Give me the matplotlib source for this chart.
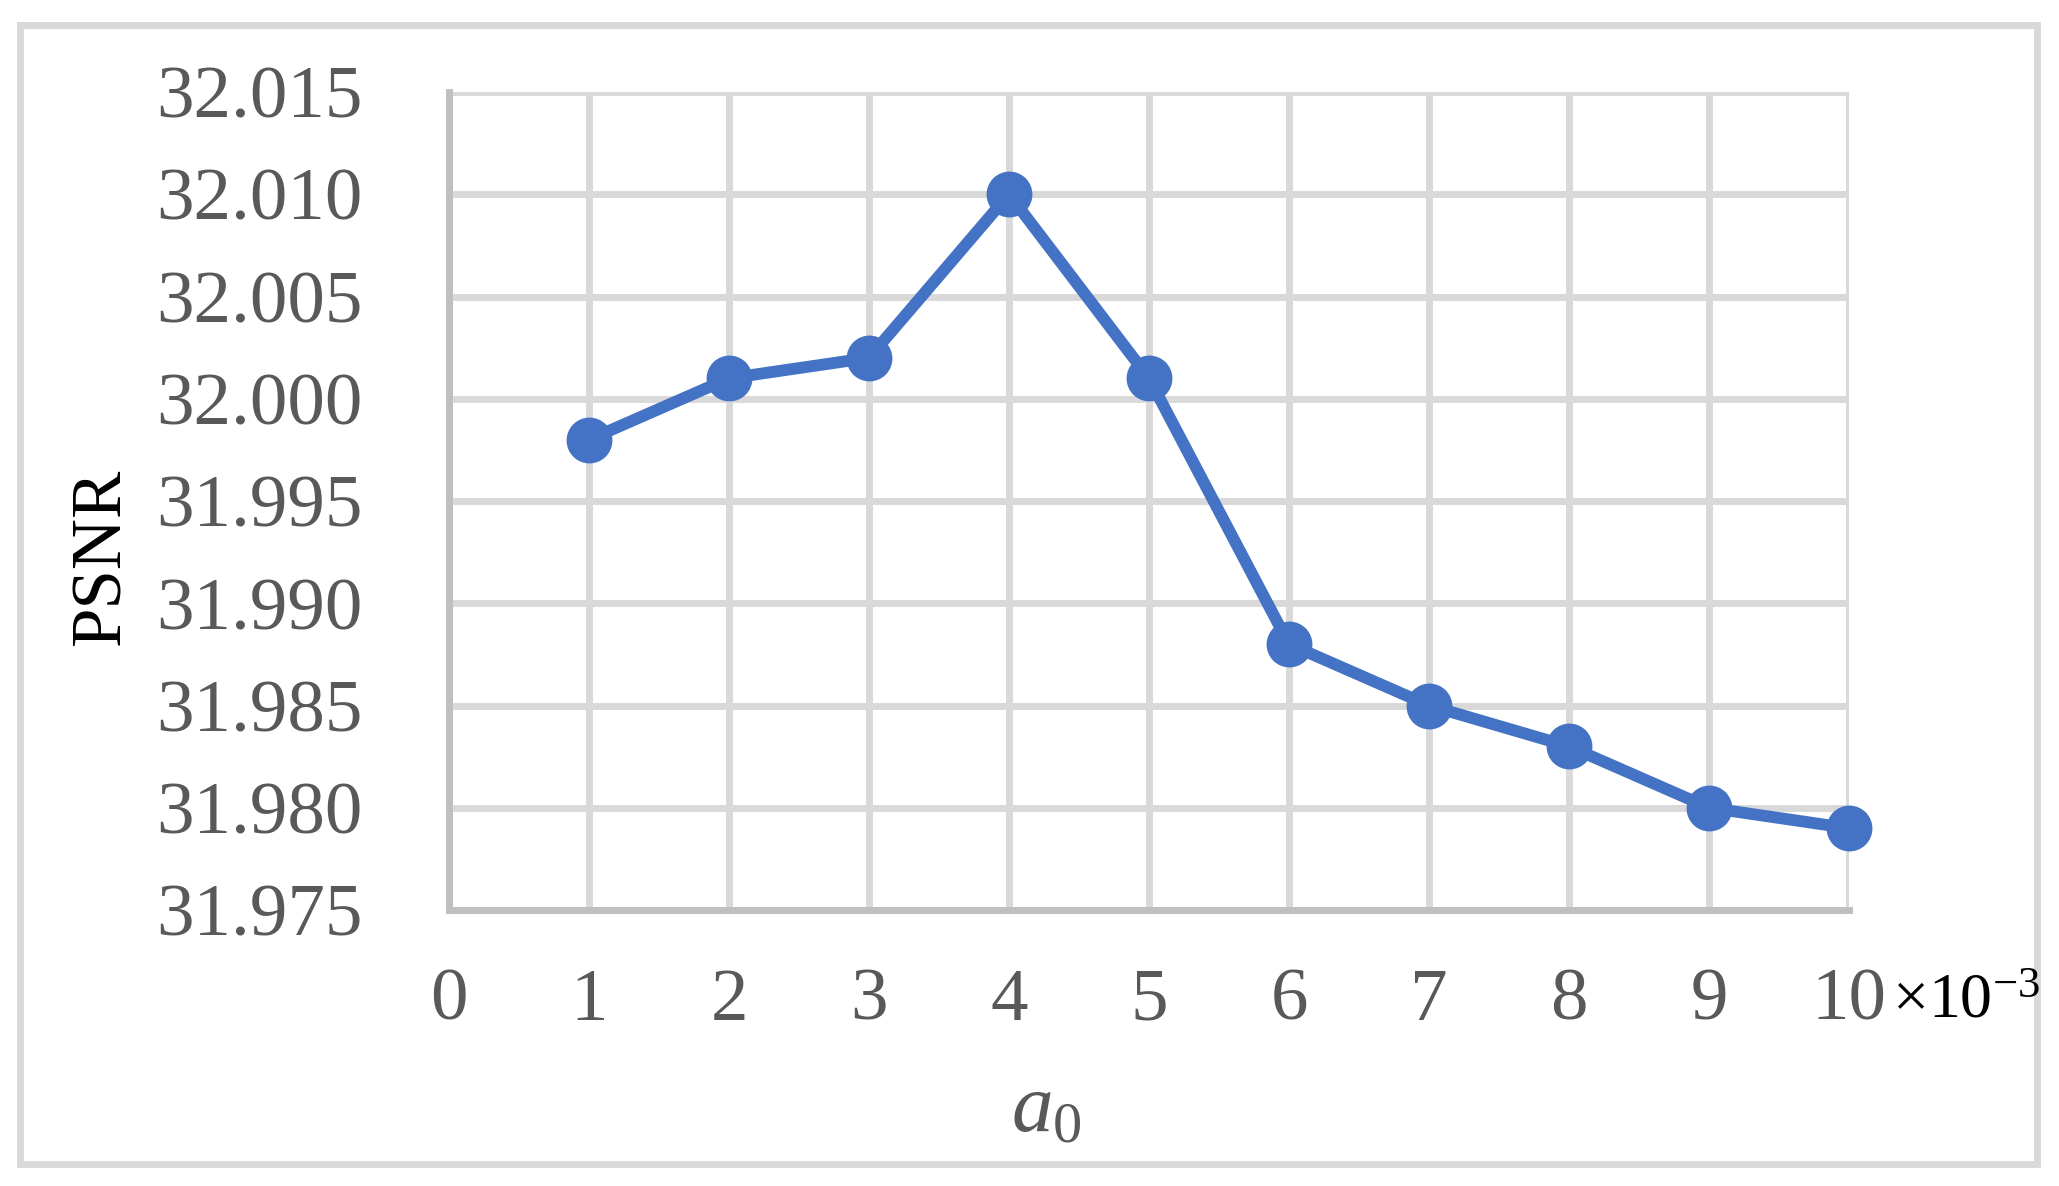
import matplotlib
matplotlib.use("Agg")
import matplotlib.pyplot as plt
from matplotlib.patches import Rectangle

# data (x in units of 1e-3)
a0 = [1, 2, 3, 4, 5, 6, 7, 8, 9, 10]
psnr = [31.998, 32.001, 32.002, 32.010, 32.001, 31.988, 31.985, 31.983, 31.980, 31.979]
x_ticks = [0, 1, 2, 3, 4, 5, 6, 7, 8, 9, 10]
y_ticks = [31.975, 31.980, 31.985, 31.990, 31.995, 32.000, 32.005, 32.010, 32.015]

plt.rcParams['font.family'] = ['Liberation Serif', 'DejaVu Serif']
plt.rcParams['mathtext.fontset'] = 'custom'
plt.rcParams['mathtext.rm'] = 'Liberation Serif'
plt.rcParams['mathtext.it'] = 'Liberation Serif:italic'

W, H = 2059, 1186
fig = plt.figure(figsize=(W / 100, H / 100), dpi=100)

# light grey frame around the whole chart
fig.patches.append(Rectangle((20 / W, 22 / H), (2037 - 20) / W, (1161 - 22) / H,
                             transform=fig.transFigure, fill=False,
                             edgecolor='#d9d9d9', linewidth=5))

ax = fig.add_axes([449 / W, 1 - 910 / H, (1849 - 449) / W, (910 - 92) / H])
ax.set_xlim(0, 10)
ax.set_ylim(31.975, 32.015)
ax.set_xticks(x_ticks)
ax.set_yticks(y_ticks)
ax.set_xticklabels([str(t) for t in x_ticks])
ax.set_yticklabels(['%.3f' % t for t in y_ticks])
ax.grid(True, color='#d9d9d9', linewidth=5)
ax.set_axisbelow(True)
for s in ['top', 'right']:
    ax.spines[s].set_visible(False)
for s in ['left', 'bottom']:
    ax.spines[s].set_color('#bfbfbf')
    ax.spines[s].set_linewidth(5)
ax.tick_params(axis='both', length=0, labelsize=54, labelcolor='#595959')
ax.tick_params(axis='y', pad=62)
ax.tick_params(axis='x', pad=42)

ax.plot(a0, psnr, color='#4472C4', linewidth=8.5, marker='o', markersize=32,
        clip_on=False, zorder=3)

fig.text(1892 / W, 1 - 1003 / H, '$\\times 10^{-3}$', transform=fig.transFigure,
         ha='left', va='center', fontsize=46, color='black')
fig.text(102 / W, 1 - 556 / H, 'PSNR', rotation=90, ha='center', va='center',
         fontsize=51, color='black')
fig.text(1046 / W, 1 - 1110 / H, '$a_0$', ha='center', va='center',
         fontsize=60, color='#595959')

fig.savefig('out.png', dpi=100)
